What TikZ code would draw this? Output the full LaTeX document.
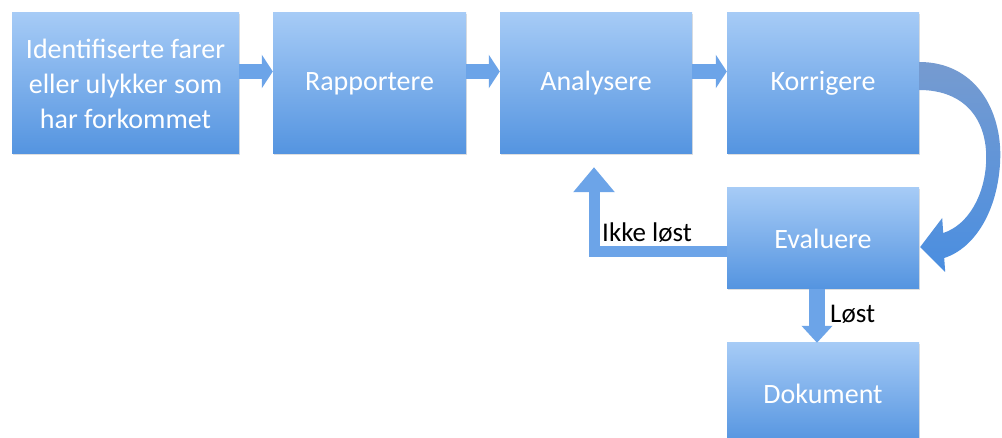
\documentclass[tikz,border=0pt]{standalone}
\usepackage{fontspec}
\setmainfont{Carlito}
\usetikzlibrary{arrows.meta,calc,shadows}
\definecolor{boxtop}{RGB}{166,203,246}
\definecolor{boxbot}{RGB}{84,148,224}
\definecolor{arrowc}{RGB}{108,164,232}
\definecolor{curvetop}{RGB}{118,155,208}
\definecolor{curvebot}{RGB}{74,142,224}
\tikzset{
  stepbox/.style={rectangle, top color=boxtop, bottom color=boxbot, draw=none,
    minimum width=192pt, minimum height=141pt, inner sep=0pt, align=center,
    text=white, font=\fontsize{28}{35}\selectfont,
    drop shadow={opacity=0.25, shadow xshift=1pt, shadow yshift=-1.5pt}},
  blockarrow/.style={draw=arrowc, line width=15pt, line join=miter,
    -{Triangle[width=33pt,length=11pt]}},
  lbl/.style={text=black, font=\fontsize{27}{32}\selectfont, inner sep=0pt, anchor=base west}
}
\begin{document}
\begin{tikzpicture}[x=1pt,y=-1pt]
\useasboundingbox (0,0) rectangle (1002,438);
\clip (0,0) rectangle (1002,438);
\fill[white] (0,0) rectangle (1002,438);
\node[stepbox, minimum width=227pt] (id) at (125.5,83.5) {Identifiserte farer\\eller ulykker som\\har forkommet};
\node[stepbox, minimum width=193pt] (rap) at (369.5,83.5) {Rapportere};
\node[stepbox] (ana) at (596,83.5) {Analysere};
\node[stepbox] (kor) at (823,83.5) {Korrigere};
\node[stepbox, minimum height=101pt] (ev) at (823,238.5) {Evaluere};
\node[stepbox, minimum height=101pt] (dok) at (823,393.5) {Dokument};
% straight block arrows
\draw[blockarrow] ($(id.east)+(0,-12)$) -- ($(rap.west)+(0,-12)$);
\draw[blockarrow] ($(rap.east)+(0,-12)$) -- ($(ana.west)+(0,-12)$);
\draw[blockarrow] ($(ana.east)+(0,-12)$) -- ($(kor.west)+(0,-12)$);
% Ikke loest
\coordinate (back) at ($(ana.south)+(-2,13)$);
\draw[draw=arrowc, line width=11pt, line join=miter, -{Triangle[width=40pt,length=25pt]}]
  ($(ev.west)+(0,13.5)$) -| (back);
\node[lbl] (ikke) at (602,242) {Ikke løst};
% Loest
\draw[draw=arrowc, line width=16pt, -{Triangle[width=30pt,length=17pt]}]
  ($(ev.south)+(-6,0)$) -- ($(dok.north)+(-6,0)$);
\node[lbl] (loest) at (830,323) {Løst};
% curved arrow Korrigere -> Evaluere
\shade[top color=curvetop, bottom color=curvebot]
  ($(kor.east)+(0,-21.5)$) .. controls ($(kor.east)+(56,-21.5)$) and ($(kor.east)+(83,26.5)$) .. ($(kor.east)+(81,76.5)$)
  .. controls ($(ev.east)+(79,-28.5)$) and ($(ev.east)+(56,9.5)$) .. ($(ev.east)+(25,19.5)$)
  -- ($(ev.east)+(26,33.5)$) -- ($(ev.east)+(1,8.5)$) -- ($(ev.east)+(23,-20.5)$) -- ($(ev.east)+(24,-5.5)$)
  .. controls ($(ev.east)+(49,-13.5)$) and ($(ev.east)+(66,-43.5)$) .. ($(ev.east)+(67,-78.5)$)
  .. controls ($(kor.east)+(68,36.5)$) and ($(kor.east)+(46,6.5)$) .. ($(kor.east)+(0,6.5)$) -- cycle;
\end{tikzpicture}
\end{document}
